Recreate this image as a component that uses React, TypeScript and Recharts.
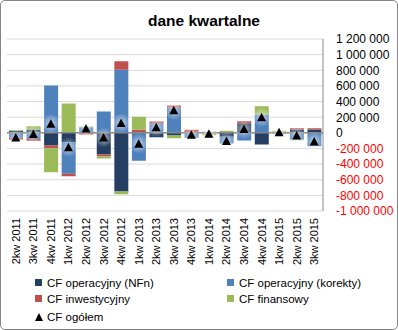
import {
  ComposedChart, Bar, Line, XAxis, YAxis, CartesianGrid, ReferenceLine
} from 'recharts';

const QUARTERS = [
  '2kw 2011', '3kw 2011', '4kw 2011', '1kw 2012', '2kw 2012', '3kw 2012',
  '4kw 2012', '1kw 2013', '2kw 2013', '3kw 2013', '4kw 2013', '1kw 2014',
  '2kw 2014', '3kw 2014', '4kw 2014', '1kw 2015', '2kw 2015', '3kw 2015',
];

const CF_NFN = [
  25000, 42000, -163000, -120000, 0, -277000, -752000, 0, -58000,
  -35000, 0, 0, -51000, 123000, -148000, 0, 42000, 42000,
];
const CF_KOREKTY = [
  -65000, -80000, 605000, -405000, 70000, 272000, 808000, -358000, 123000,
  324000, -64000, -5000, -85000, -99000, 235000, 10000, -86000, -171000,
];
const CF_INWEST = [
  -25000, -20000, -34000, -31000, -20000, -26000, 107000, 38000, 21000,
  26000, 38000, 15000, 0, 26000, 0, -15000, 17000, 17000,
];
const CF_FIN = [
  12000, 42000, -307000, 375000, 10000, -26000, -34000, 166000, 0,
  -34000, 0, -25000, 26000, 0, 105000, 15000, -8000, 0,
];
const CF_TOTAL = [
  -60000, -15000, 115000, -183000, 55000, -60000, 125000, -140000, 70000,
  290000, -26000, -13000, -105000, 48000, 200000, 8000, -35000, -110000,
];

const Y_TICKS = [
  -1000000, -800000, -600000, -400000, -200000, 0,
  200000, 400000, 600000, 800000, 1000000, 1200000,
];

const SERIES = [
  { key: 'nfn', name: 'CF operacyjny (NFn)', color: '#243F62' },
  { key: 'korekty', name: 'CF operacyjny (korekty)', color: '#4F81BD' },
  { key: 'inwest', name: 'CF inwestycyjny', color: '#C0504D' },
  { key: 'fin', name: 'CF finansowy', color: '#9BBB59' },
];
const TOTAL_NAME = 'CF ogółem';

const data = QUARTERS.map((q, i) => ({
  q,
  nfn: CF_NFN[i],
  korekty: CF_KOREKTY[i],
  inwest: CF_INWEST[i],
  fin: CF_FIN[i],
  total: CF_TOTAL[i],
}));

const FONT = '"Liberation Sans", Arial, sans-serif';

const fmt = (v: number) =>
  (v < 0 ? '-' : '') + String(Math.abs(v)).replace(/\B(?=(\d{3})+(?!\d))/g, ' ');

const YTick = ({ x, y, payload }: any) => (
  <text x={x} y={y} dy="0.36em" textAnchor="start" fontSize={12}
    fontFamily={FONT} fill={payload.value < 0 ? '#FF0000' : '#000'}>
    {fmt(payload.value)}
  </text>
);

const XTick = ({ x, y, payload }: any) => (
  <text x={x} y={y} dy="0.36em" textAnchor="end" fontSize={11}
    fontFamily={FONT} fill="#000" transform={`rotate(-90, ${x}, ${y})`}>
    {payload.value}
  </text>
);

const Triangle = ({ cx, cy }: any) => {
  if (cx == null || cy == null) return null;
  return (
    <g>
      <circle cx={cx} cy={cy} r={10} fill="url(#triGlow)" />
      <path d={`M${cx},${cy - 4.5} L${cx + 4.5},${cy + 4} L${cx - 4.5},${cy + 4} Z`} fill="#000" />
    </g>
  );
};

export default function App() {
  return (
    <div style={{
      position: 'absolute', left: 0, top: 0, width: 398, height: 330,
      boxSizing: 'border-box', border: '1px solid #868686', borderRadius: 5,
      background: '#fff', fontFamily: FONT, overflow: 'hidden',
    }}>
      <div style={{
        position: 'absolute', left: 0, top: 11, width: 406, textAlign: 'center',
        fontSize: 15.5, fontWeight: 'bold', lineHeight: '18px', color: '#000',
      }}>
        dane kwartalne
      </div>
      <div style={{ position: 'absolute', left: -1, top: -1 }}>
        <ComposedChart
          width={398}
          height={330}
          data={data}
          stackOffset="sign"
          margin={{ top: 39, right: 0, left: 7, bottom: 64 }}
        >
          <defs>
            <radialGradient id="triGlow">
              <stop offset="0%" stopColor="#ffffff" stopOpacity={0.65} />
              <stop offset="100%" stopColor="#ffffff" stopOpacity={0} />
            </radialGradient>
          </defs>
          <CartesianGrid stroke="#D9D9D9" vertical={false} />
          <XAxis
            dataKey="q"
            interval={0}
            height={55}
            tick={<XTick />}
            tickLine={false}
            tickSize={0}
            tickMargin={7}
            axisLine={false}
          />
          <YAxis
            orientation="right"
            width={75}
            domain={[-1000000, 1200000]}
            ticks={Y_TICKS}
            interval={0}
            tick={<YTick />}
            tickLine={false}
            tickSize={0}
            tickMargin={13}
            axisLine={{ stroke: '#868686' }}
            allowDataOverflow
          />
          {SERIES.map((s) => (
            <Bar key={s.key} dataKey={s.key} name={s.name} stackId="cf"
              fill={s.color} barSize={14} isAnimationActive={false} />
          ))}
          <ReferenceLine y={0} stroke="#868686" strokeWidth={1.5} />
          <Line dataKey="total" name={TOTAL_NAME} stroke="none" dot={<Triangle />}
            activeDot={false} isAnimationActive={false} />
        </ComposedChart>
      </div>
      <div style={{ position: 'absolute', left: 0, top: 0, fontSize: 11.5, color: '#000' }}>
        {SERIES.map((s, i) => (
          <div key={s.key} style={{
            position: 'absolute',
            left: i % 2 === 0 ? 34 : 226,
            top: i < 2 ? 274 : 290,
            whiteSpace: 'nowrap', lineHeight: '16px',
          }}>
            <span style={{
              display: 'inline-block', width: 7, height: 7, background: s.color,
              marginRight: 5, verticalAlign: 'middle', position: 'relative', top: -1,
            }} />
            {s.name}
          </div>
        ))}
        <div style={{
          position: 'absolute', left: 34, top: 308, whiteSpace: 'nowrap', lineHeight: '16px',
        }}>
          <svg width={8} height={8} style={{ marginRight: 4, verticalAlign: 'middle', position: 'relative', top: -1 }}>
            <path d="M4,0 L8,8 L0,8 Z" fill="#000" />
          </svg>
          {TOTAL_NAME}
        </div>
      </div>
    </div>
  );
}
